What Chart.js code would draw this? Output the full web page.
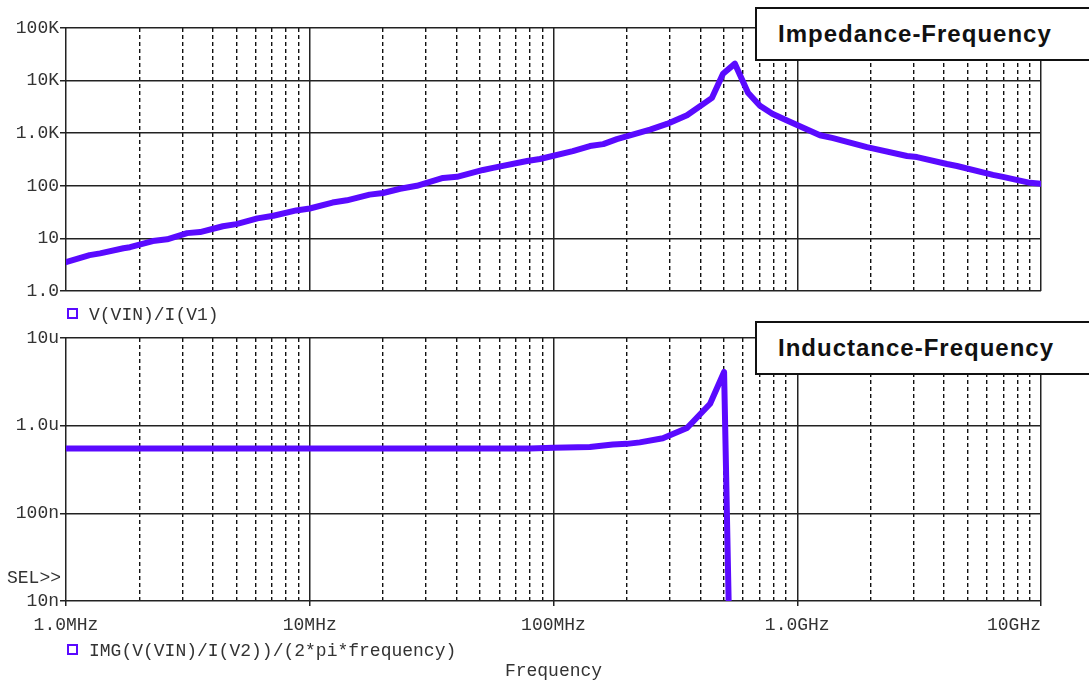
<!DOCTYPE html>
<html>
<head>
<meta charset="utf-8">
<script src="https://cdn.jsdelivr.net/npm/chart.js@4.4.1/dist/chart.umd.min.js"></script>
<style>
  html, body { margin: 0; padding: 0; background: #fff; }
  #page { position: relative; width: 1089px; height: 684px; overflow: hidden; }
  .pane { position: absolute; left: 0; width: 1089px; }
  .mono { position: absolute; font-family: "Liberation Mono", "DejaVu Sans Mono", monospace; font-size: 18px; color: #333; white-space: pre; line-height: 20px; }
  .sq { display: inline-block; width: 7px; height: 7px; border: 2px solid #5a0aff; margin-right: 11px; vertical-align: 1px; }
  .tag { position: absolute; left: 755px; width: 360px; height: 50px; border: 2px solid #111; background: #fff;
         font-family: "Liberation Sans", Arial, sans-serif; font-weight: bold; font-size: 24px; letter-spacing: 1px;
         line-height: 50px; padding-left: 21px; color: #111; box-sizing: content-box; }
</style>
</head>
<body>
<div id="page">
  <div class="pane" style="top:0;height:300px"><canvas id="zChart"></canvas></div>
  <div class="pane" style="top:310px;height:374px"><canvas id="lChart"></canvas></div>

  <div class="mono" style="left:67px;top:305px"><span class="sq"></span>V(VIN)/I(V1)</div>
  <div class="mono" style="left:67px;top:641px"><span class="sq"></span>IMG(V(VIN)/I(V2))/(2*pi*frequency)</div>
  <div class="mono" style="left:7px;top:568px">SEL&gt;&gt;</div>

  <div class="tag" style="top:7px">Impedance-Frequency</div>
  <div class="tag" style="top:321px">Inductance-Frequency</div>
</div>

<script>
// 주파수축 (Hz) - 주 눈금(데케이드)과 보조 눈금 배수
var FREQ_DECADES = [1e6, 1e7, 1e8, 1e9, 1e10];
var FREQ_LABELS = ['1.0MHz', '10MHz', '100MHz', '1.0GHz', '10GHz     '];
var MINOR_STEPS = [2, 3, 4, 5, 6, 7, 8, 9];

// 임피던스 축
var Z_TICKS = [1, 10, 100, 1e3, 1e4, 1e5];
var Z_TICK_LABELS = ['1.0', '10', '100', '1.0K', '10K', '100K'];

// 인덕턴스 축
var L_TICKS = [1e-8, 1e-7, 1e-6, 1e-5];
var L_TICK_LABELS = ['10n', '100n', '1.0u', '10u'];

// V(VIN)/I(V1) : 주파수(MHz), 임피던스(Ohm)
var Z_FREQ_MHZ = [1.0, 1.25, 1.38, 1.72, 1.83, 2.27, 2.6, 3.14, 3.55, 4.4, 5.0, 6.1, 7.1, 8.8, 10,
  12.4, 14.2, 17.6, 20, 23.5, 27.5, 35.2, 40.2, 51.4, 56.5, 77.9, 88, 120, 141, 160, 182, 249, 292,
  353, 447, 496, 555, 628, 703, 790, 908, 1239, 1403, 1932, 2820, 3100, 4113, 4520, 6350, 6980, 9020, 10000];
var Z_OHM = [3.54, 4.8, 5.2, 6.5, 6.8, 8.9, 9.6, 12.6, 13.2, 17, 18.7, 24, 27, 34, 37,
  48, 53, 68, 73, 88, 100, 141, 148, 200, 219, 296, 323, 457, 569, 620, 770, 1170, 1500,
  2200, 4700, 13500, 21000, 5900, 3330, 2350, 1740, 916, 805, 545, 368, 352, 260, 238, 161, 148, 114, 109];

// IMG(V(VIN)/I(V2))/(2*pi*frequency) : 주파수(MHz), 인덕턴스(H)
var L_FREQ_MHZ = [1, 10, 50, 80, 100, 141, 175, 200, 226, 281, 353, 439, 501, 523];
var L_HENRY = [0.55e-6, 0.55e-6, 0.55e-6, 0.55e-6, 0.56e-6, 0.57e-6, 0.61e-6, 0.62e-6, 0.645e-6,
  0.72e-6, 0.94e-6, 1.78e-6, 4.1e-6, 1e-8];

var TRACE_COLOR = '#5a0aff';
var GRID_MAJOR = '#222';
var GRID_MINOR = '#111';
var TICK_FONT = { family: '"Liberation Mono", "DejaVu Sans Mono", monospace', size: 18 };
var TICK_COLOR = '#333';

function toPoints(freqMHz, vals) {
  return freqMHz.map(function (f, i) { return { x: f * 1e6, y: vals[i] }; });
}

function minorFreqs() {
  var out = [];
  FREQ_DECADES.slice(0, -1).forEach(function (d) {
    MINOR_STEPS.forEach(function (m) { out.push(d * m); });
  });
  return out;
}

function fixedTicks(values) {
  return function (scale) {
    scale.ticks = values.map(function (v) { return { value: v }; });
  };
}

function xAxes(showLabels, axisHeight) {
  return {
    x: {
      type: 'logarithmic',
      position: 'bottom',
      min: FREQ_DECADES[0],
      max: FREQ_DECADES[FREQ_DECADES.length - 1],
      afterBuildTicks: fixedTicks(FREQ_DECADES),
      afterFit: function (s) { s.height = axisHeight; s.paddingLeft = 0; s.paddingRight = 0; },
      border: { display: false },
      grid: { color: GRID_MAJOR, lineWidth: 1.5, drawTicks: showLabels, tickLength: 5, tickColor: GRID_MAJOR },
      ticks: {
        display: showLabels,
        autoSkip: false,
        maxRotation: 0,
        padding: 8,
        color: TICK_COLOR,
        font: TICK_FONT,
        callback: function (v, i) { return FREQ_LABELS[i]; }
      },
      title: {
        display: showLabels,
        text: 'Frequency',
        color: TICK_COLOR,
        font: TICK_FONT,
        padding: { top: 0, bottom: 2 }
      }
    },
    xMinor: {
      type: 'logarithmic',
      position: 'bottom',
      min: FREQ_DECADES[0],
      max: FREQ_DECADES[FREQ_DECADES.length - 1],
      afterBuildTicks: fixedTicks(minorFreqs()),
      afterFit: function (s) { s.height = 0; s.paddingLeft = 0; s.paddingRight = 0; },
      border: { display: false, dash: [4, 3] },
      grid: { color: GRID_MINOR, lineWidth: 1.4, drawTicks: false },
      ticks: { display: false, autoSkip: false }
    }
  };
}

function yAxis(min, max, ticks, labels) {
  return {
    type: 'logarithmic',
    min: min,
    max: max,
    afterBuildTicks: fixedTicks(ticks),
    afterFit: function (s) { s.width = 66; s.paddingTop = 0; s.paddingBottom = 0; },
    border: { display: false },
    grid: { color: GRID_MAJOR, lineWidth: 1.5, drawTicks: true, tickLength: 6, tickColor: GRID_MAJOR },
    ticks: {
      autoSkip: false,
      padding: 1,
      color: TICK_COLOR,
      font: TICK_FONT,
      callback: function (v, i) { return labels[i]; }
    }
  };
}

function makeChart(canvasId, points, yScale, showLabels, axisHeight, padBottom) {
  var scales = xAxes(showLabels, axisHeight);
  scales.y = yScale;
  return new Chart(document.getElementById(canvasId), {
    type: 'line',
    data: {
      datasets: [{
        data: points,
        xAxisID: 'x',
        yAxisID: 'y',
        borderColor: TRACE_COLOR,
        borderWidth: 6,
        borderJoinStyle: 'round',
        borderCapStyle: 'round',
        pointRadius: 0,
        tension: 0,
        fill: false
      }]
    },
    options: {
      animation: false,
      responsive: true,
      maintainAspectRatio: false,
      layout: { padding: { top: 28, right: 48, bottom: padBottom, left: 0 } },
      scales: scales,
      plugins: { legend: { display: false }, tooltip: { enabled: false } }
    }
  });
}

makeChart('zChart', toPoints(Z_FREQ_MHZ, Z_OHM),
  yAxis(Z_TICKS[0], Z_TICKS[Z_TICKS.length - 1], Z_TICKS, Z_TICK_LABELS), false, 0, 9);

makeChart('lChart', toPoints(L_FREQ_MHZ, L_HENRY),
  yAxis(L_TICKS[0], L_TICKS[L_TICKS.length - 1], L_TICKS, L_TICK_LABELS), true, 83, 0);
</script>
</body>
</html>
